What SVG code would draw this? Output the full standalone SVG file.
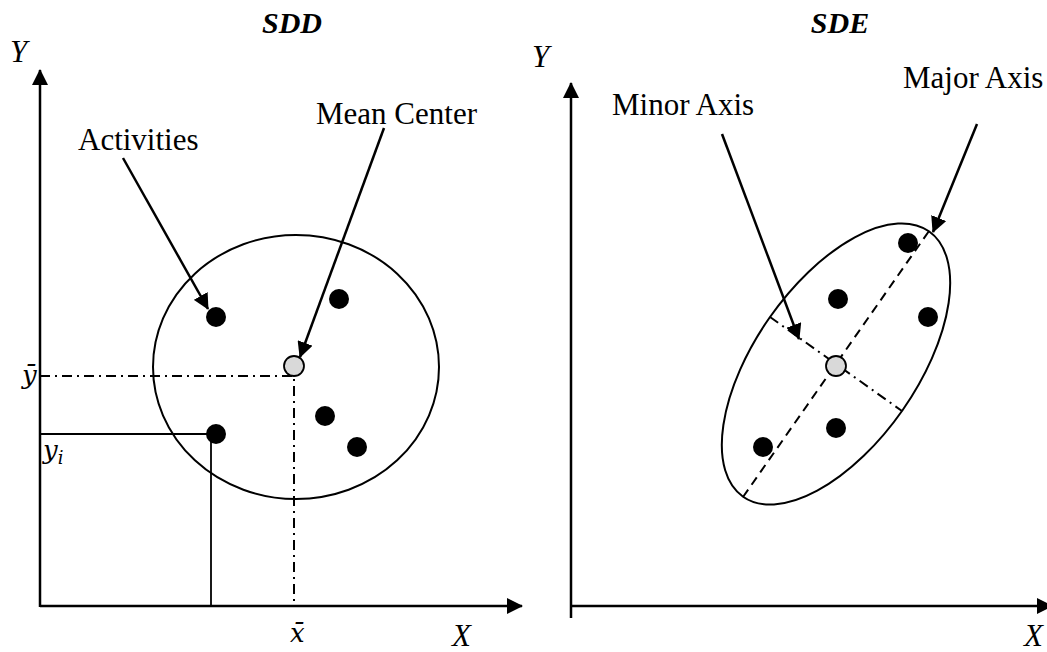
<svg xmlns="http://www.w3.org/2000/svg" width="1047" height="652" viewBox="0 0 1047 652">
<style>
.t{font-family:"Liberation Serif","Times New Roman",serif;font-size:31px;fill:#000}
.ti{font-family:"Liberation Serif","Times New Roman",serif;font-size:31px;font-style:italic;fill:#000}
.tb{font-family:"Liberation Serif","Times New Roman",serif;font-size:30px;font-style:italic;font-weight:bold;fill:#000}
.m{font-family:"DejaVu Serif","Liberation Serif",serif;font-size:26px;font-style:italic;fill:#000}
.ax{stroke:#000;stroke-width:2.5;fill:none}
.ln{stroke:#000;stroke-width:2;fill:none}
.thin{stroke:#000;stroke-width:1.8;fill:none}
.dd{stroke:#000;stroke-width:2;fill:none;stroke-dasharray:10 5 2 5}
.da{stroke:#000;stroke-width:2;fill:none;stroke-dasharray:9 6}
.dot{fill:#000}
.mc{fill:#d9d9d9;stroke:#000;stroke-width:1.8}
</style>
<defs>
<marker id="ahs" markerWidth="16" markerHeight="16" refX="15" refY="8" orient="auto" markerUnits="userSpaceOnUse" viewBox="0 0 16 16">
<path d="M0,0 L16,8 L0,16 z" fill="#000"/>
</marker>
</defs>

<g id="sdd-panel">
<text class="tb" x="292" y="33" text-anchor="middle">SDD</text>
<text class="ti" x="10" y="62">Y</text>
<text class="ti" x="452" y="646">X</text>
<text class="m" x="290" y="642">x̄</text>
<text class="m" x="22" y="384">ȳ</text>
<text class="m" x="43" y="459">y<tspan font-size="18" dy="5">i</tspan></text>
</g>

<g id="sdd-circle">
<ellipse class="ln" cx="296" cy="367" rx="143" ry="132"/>
</g>

<g id="sdd-activities">
<circle class="dot" cx="216" cy="317" r="10"/>
<circle class="dot" cx="339" cy="299" r="10"/>
<circle class="dot" cx="325" cy="416" r="10"/>
<circle class="dot" cx="357" cy="447" r="10"/>
<circle class="dot" cx="216" cy="434" r="10"/>
<text class="t" x="78" y="150">Activities</text>
</g>

<g id="sdd-mean-center">
<text class="t" x="316" y="124">Mean Center</text>
</g>

<g id="sde-panel">
<text class="tb" x="840" y="33" text-anchor="middle">SDE</text>
<text class="ti" x="532" y="67">Y</text>
<text class="ti" x="1024" y="646">X</text>
</g>

<g id="sde-ellipse">
<ellipse class="ln" cx="836" cy="364" rx="162" ry="81" transform="rotate(-55 836 364)"/>
<circle class="dot" cx="908" cy="243" r="10"/>
<circle class="dot" cx="838" cy="299" r="10"/>
<circle class="dot" cx="928" cy="317" r="10"/>
<circle class="dot" cx="836" cy="428" r="10"/>
<circle class="dot" cx="763" cy="447" r="10"/>
</g>

<g id="sde-labels">
<text class="t" x="612" y="115">Minor Axis</text>
<text class="t" x="903" y="88">Major Axis</text>
</g>

<g id="connectors">
<line class="ax" x1="40" y1="607" x2="40" y2="70" marker-end="url(#ahs)"/>
<line class="ax" x1="40" y1="606" x2="522" y2="606" marker-end="url(#ahs)"/>
<line class="ax" x1="571" y1="618" x2="571" y2="83" marker-end="url(#ahs)"/>
<line class="ax" x1="571" y1="606" x2="1052" y2="606" marker-end="url(#ahs)"/>
<polyline class="thin" points="40,434 216,434"/>
<line class="thin" x1="211" y1="434" x2="211" y2="606"/>
<polyline class="dd" points="40,376 294,376 294,606"/>
<line class="da" x1="743" y1="497" x2="929" y2="231"/>
<line class="dd" x1="770" y1="317" x2="902" y2="411"/>
<line class="ax" x1="123" y1="158" x2="208" y2="309" marker-end="url(#ahs)"/>
<line class="ax" x1="384" y1="128" x2="300" y2="357" marker-end="url(#ahs)"/>
<line class="ax" x1="722" y1="134" x2="799" y2="339" marker-end="url(#ahs)"/>
<line class="ax" x1="977" y1="124" x2="933" y2="232" marker-end="url(#ahs)"/>
<circle class="mc" cx="294" cy="366" r="10"/>
<circle class="mc" cx="836" cy="366" r="10"/>
</g>
</svg>
